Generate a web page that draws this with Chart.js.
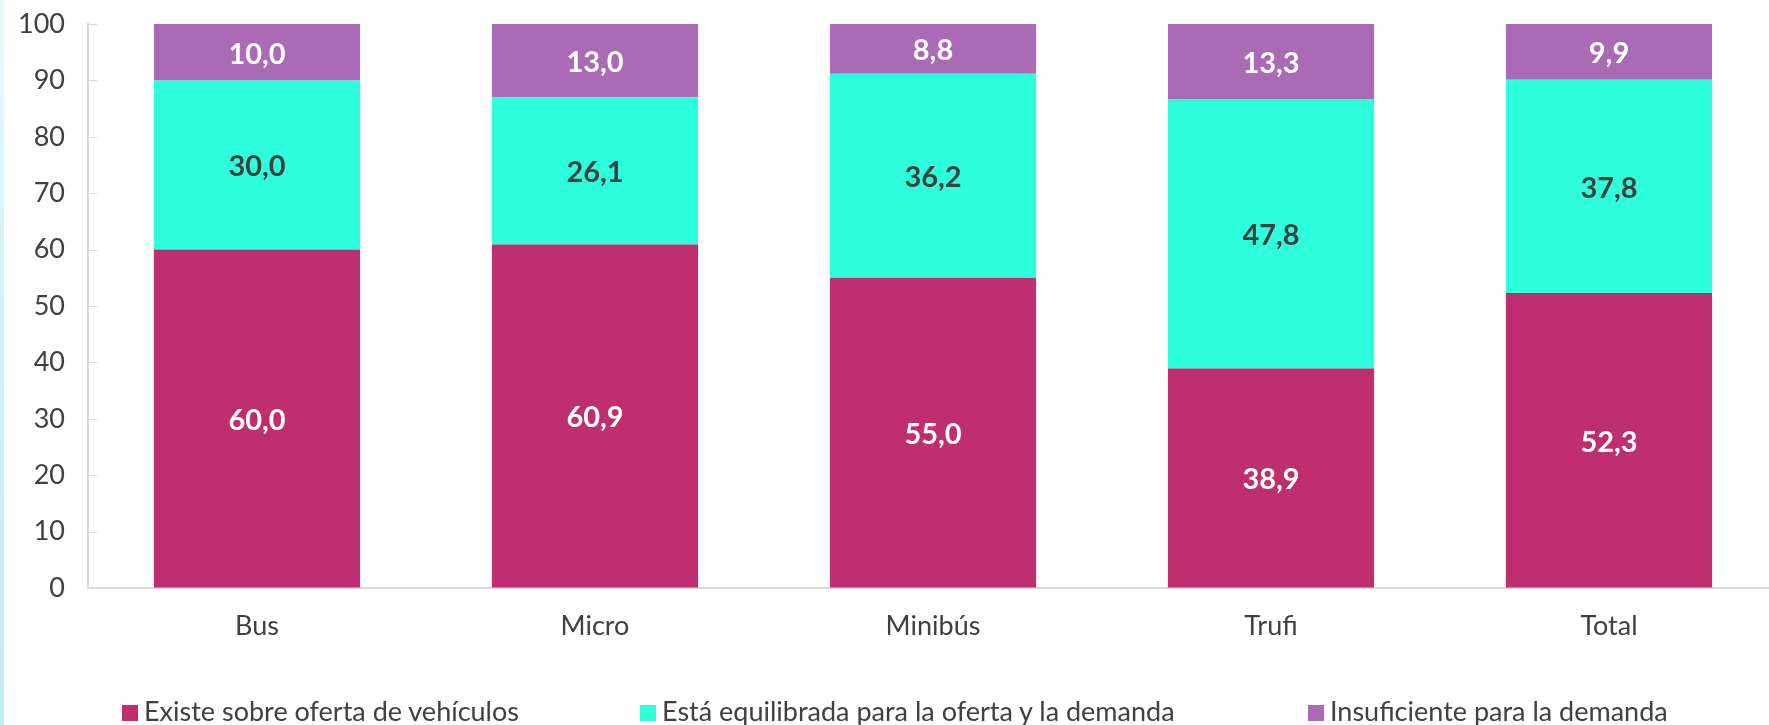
<!DOCTYPE html>
<html>
<head>
<meta charset="utf-8">
<script src="https://cdn.jsdelivr.net/npm/chart.js@4"></script>
<style>
  html, body { margin: 0; padding: 0; background: #fff; overflow: hidden; }
  #wrap { position: relative; width: 1778px; height: 725px; }
  #edge { position: absolute; left: 0; top: 0; width: 4px; height: 725px;
          background: linear-gradient(#e6fbfd, #c8f0f6 60%, #c2eef5); }
  #legend { position: absolute; left: 0; top: 696px; width: 1769px; height: 30px;
            font-family: Lato, sans-serif; font-size: 27px; color: #404040; }
  .item { position: absolute; top: 0; white-space: nowrap; line-height: 30px; }
  .box { display: inline-block; width: 16px; height: 16px; margin-right: 6px; vertical-align: 0px; }
</style>
</head>
<body>
<div id="wrap">
  <canvas id="myChart" width="1778" height="725"></canvas>
  <div id="edge"></div>
  <div id="legend"></div>
</div>
<script>
document.addEventListener('DOMContentLoaded', function () {

    // categories and values (%)
    var categories = ['Bus', 'Micro', 'Minibús', 'Trufi', 'Total'];
    var sobreOferta = [60.0, 60.9, 55.0, 38.9, 52.3];
    var equilibrada = [30.0, 26.1, 36.2, 47.8, 37.8];
    var insuficiente = [10.0, 13.0, 8.8, 13.3, 9.9];
    var seriesNames = ['Existe sobre oferta de vehículos', 'Está equilibrada para la oferta y la demanda', 'Insuficiente para la demanda'];
    var yTicks = [0, 10, 20, 30, 40, 50, 60, 70, 80, 90, 100];

    var colors = ['#bf2e6e', '#2dffdd', '#aa6ab6'];
    var labelColors = ['#ffffff', '#404040', '#ffffff'];
    var legendLeft = [122, 640, 1308];

    // value labels in the middle of each segment
    var valueLabels = {
        id: 'valueLabels',
        afterDatasetsDraw: function (chart) {
            var ctx = chart.ctx;
            ctx.save();
            ctx.font = 'bold 29px Lato';
            ctx.textAlign = 'center';
            ctx.textBaseline = 'middle';
            chart.data.datasets.forEach(function (ds, i) {
                var meta = chart.getDatasetMeta(i);
                meta.data.forEach(function (bar, j) {
                    ctx.fillStyle = labelColors[i];
                    var txt = ds.data[j].toFixed(1).replace('.', ',');
                    ctx.fillText(txt, bar.x, (bar.y + bar.base) / 2 + 2);
                });
            });
            ctx.restore();
        }
    };

    // small tick marks on the inner side of the y axis
    var innerTicks = {
        id: 'innerTicks',
        afterDraw: function (chart) {
            var ctx = chart.ctx;
            var y = chart.scales.y;
            var left = chart.chartArea.left;
            ctx.save();
            ctx.strokeStyle = '#d9d9d9';
            ctx.lineWidth = 1;
            yTicks.forEach(function (v) {
                var py = Math.round(y.getPixelForValue(v)) + 0.5;
                ctx.beginPath();
                ctx.moveTo(left, py);
                ctx.lineTo(left + 9, py);
                ctx.stroke();
            });
            ctx.restore();
        }
    };

    var ctx = document.getElementById('myChart').getContext('2d');
    var chart = new Chart(ctx, {
        type: 'bar',
        data: {
            labels: categories,
            datasets: [
                { label: seriesNames[0], data: sobreOferta, backgroundColor: colors[0] },
                { label: seriesNames[1], data: equilibrada, backgroundColor: colors[1] },
                { label: seriesNames[2], data: insuficiente, backgroundColor: colors[2] }
            ]
        },
        options: {
            responsive: false,
            animation: false,
            layout: { padding: { top: 24, bottom: 77, left: 0, right: 0 } },
            datasets: { bar: { categoryPercentage: 1, barPercentage: 0.61 } },
            plugins: { legend: { display: false }, tooltip: { enabled: false } },
            scales: {
                x: {
                    stacked: true,
                    afterFit: function (s) { s.height = 60; s.paddingLeft = 0; s.paddingRight = 0; },
                    grid: { display: false, drawTicks: false },
                    border: { display: true, color: '#d9d9d9', width: 2 },
                    ticks: { color: '#404040', font: { family: 'Lato', size: 27 }, padding: 22 }
                },
                y: {
                    stacked: true,
                    min: 0, max: 100,
                    afterFit: function (s) { s.width = 88; s.paddingTop = 0; s.paddingBottom = 0; },
                    grid: { drawOnChartArea: false, drawTicks: false },
                    border: { display: true, color: '#d9d9d9', width: 2 },
                    ticks: { stepSize: 10, color: '#404040', font: { family: 'Lato', size: 27 }, padding: 23 }
                }
            }
        },
        plugins: [valueLabels, innerTicks]
    });

    // legend as html
    var legend = document.getElementById('legend');
    seriesNames.forEach(function (name, i) {
        var item = document.createElement('div');
        item.className = 'item';
        item.style.left = legendLeft[i] + 'px';
        item.innerHTML = '<span class="box" style="background:' + colors[i] + '"></span>' + name;
        legend.appendChild(item);
    });
})
</script>
</body>
</html>
